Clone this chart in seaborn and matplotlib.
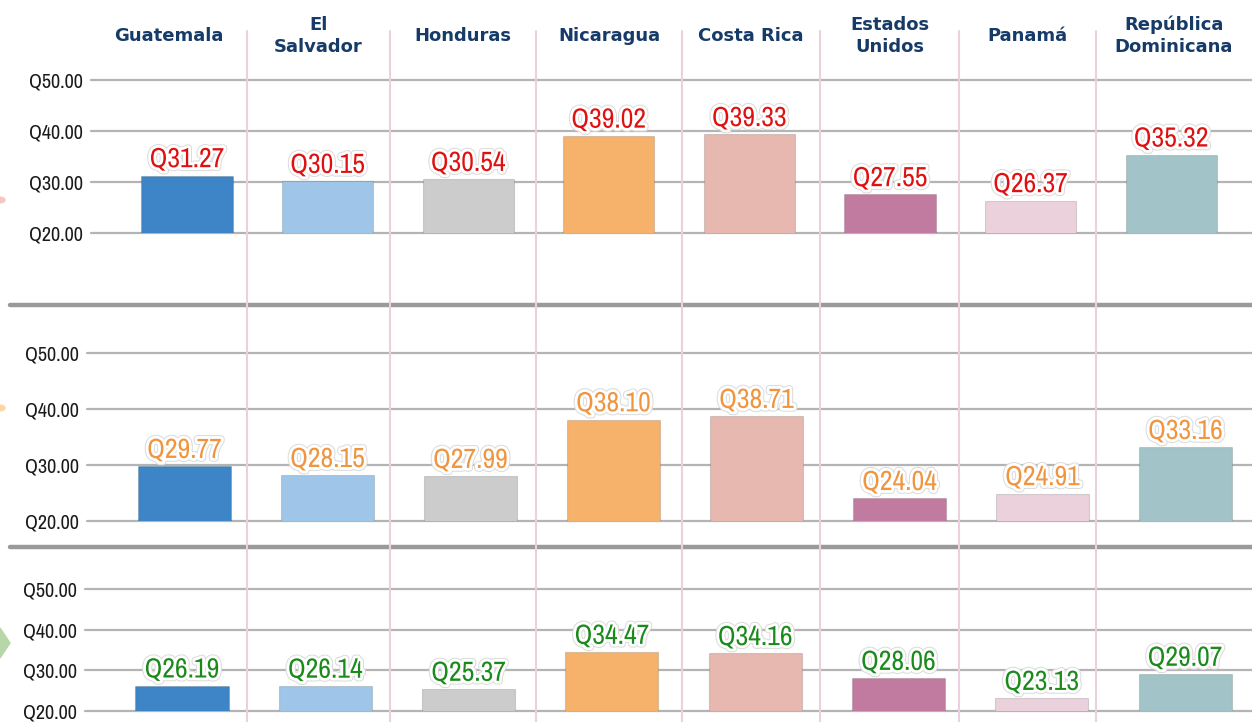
import matplotlib
matplotlib.use("Agg")
import matplotlib.pyplot as plt
import matplotlib.patheffects as pe
from matplotlib.lines import Line2D
from matplotlib.patches import Polygon, Circle
from matplotlib import font_manager
import seaborn as sns
import pandas as pd

# ---------------- data ----------------
paises = ["Guatemala", "El Salvador", "Honduras", "Nicaragua", "Costa Rica",
          "Estados Unidos", "Panamá", "República Dominicana"]
encabezados = ["Guatemala", "El\nSalvador", "Honduras", "Nicaragua", "Costa Rica",
               "Estados\nUnidos", "Panamá", "República\nDominicana"]
colores_pais = ["#3d85c6", "#9fc5e8", "#cccccc", "#f6b26b", "#e6b8af",
                "#c27ba0", "#ead1dc", "#a2c4c9"]
valores_1 = [31.27, 30.15, 30.54, 39.02, 39.33, 27.55, 26.37, 35.32]
valores_2 = [29.77, 28.15, 27.99, 38.10, 38.71, 24.04, 24.91, 33.16]
valores_3 = [26.19, 26.14, 25.37, 34.47, 34.16, 28.06, 23.13, 29.07]
ticks_y = [20, 30, 40, 50]
color_etiqueta = ["#e01010", "#f0953f", "#1a8a1a"]

# ---------------- fonts ----------------
_wmap = {"ultralight": 200, "light": 300, "normal": 400, "regular": 400, "book": 400,
         "medium": 500, "semibold": 600, "demibold": 600, "bold": 700,
         "heavy": 800, "extra bold": 800, "black": 900}


def _w(f):
    w = f.weight
    if isinstance(w, str):
        return _wmap.get(w.lower(), 400)
    return int(w)


def _rank(f):
    n = f.name
    if "Narrow" in n:
        pri = 0
    elif "Semi" in n or "Extra" in n or "Ultra" in n:
        pri = 2
    elif "Condensed" in n:
        pri = 1
    else:
        pri = 3
    return (pri, abs(_w(f) - 400), n)


cands = [f for f in font_manager.fontManager.ttflist
         if ("Narrow" in f.name or "Condensed" in f.name) and f.style == "normal"]
if cands:
    best = sorted(cands, key=_rank)[0]
    lbl_font = [best.name, "Roboto", "DejaVu Sans"]
    lbl_weight = _w(best)
    lbl_size, tick_size = 20, 14.5
else:
    lbl_font = ["Roboto", "DejaVu Sans"]
    lbl_weight = 400
    lbl_size, tick_size = 16.5, 12.5

# ---------------- layout ----------------
W, H = 1252, 722
sns.set_theme(style="white")
plt.rcParams["font.family"] = ["DejaVu Sans"]

fig = plt.figure(figsize=(W / 100, H / 100), dpi=100)
fig.patch.set_facecolor("white")


def fx(px):
    return px / W


def fy(py):
    return 1 - py / H


# (y of Q50 line, y of Q20 line, center of first bar, bar spacing, left of gridlines)
paneles = [
    (80, 233, 187.0, 140.6, 91, valores_1),
    (353, 521, 184.5, 143.0, 87, valores_2),
    (589, 711, 182.0, 143.3, 85, valores_3),
]

for k, (y50, y20, xc0, sp, xleft, vals) in enumerate(paneles):
    ppu = (y20 - y50) / 30.0
    ylo, yhi = 20, 52
    bot_px = y20
    top_px = y50 - (yhi - 50) * ppu
    ax = fig.add_axes([fx(xleft), fy(bot_px), fx(W - xleft), (bot_px - top_px) / H])
    ax.set_facecolor("none")
    df = pd.DataFrame({"pais": paises, "valor": vals})
    sns.barplot(data=df, x="pais", y="valor", hue="pais", palette=colores_pais,
                hue_order=paises, order=paises, width=0.65, dodge=False,
                saturation=1, legend=False, ax=ax, edgecolor="#00000022",
                linewidth=0.8, zorder=2)
    ax.set_ylim(ylo, yhi)
    ax.set_xlim((xleft - xc0) / sp, (W - xc0) / sp)
    for t in ticks_y:
        ax.axhline(t, color="#b4b4b4", lw=1.6, zorder=0, clip_on=False)
    ax.set_yticks(ticks_y)
    ax.set_yticklabels([f"Q{t:.2f}" for t in ticks_y], family=lbl_font,
                       fontweight=lbl_weight, fontsize=tick_size, color="#1a1a1a")
    ax.tick_params(axis="y", length=0, pad=6)
    ax.set_xticks([])
    ax.set_xlabel("")
    ax.set_ylabel("")
    for s in ax.spines.values():
        s.set_visible(False)
    for i, v in enumerate(vals):
        ax.annotate(f"Q{v:.2f}", xy=(i, v), xytext=(0, 6), textcoords="offset points",
                    ha="center", va="baseline", fontsize=lbl_size, family=lbl_font,
                    fontweight=lbl_weight,
                    color=color_etiqueta[k], zorder=6, annotation_clip=False,
                    path_effects=[pe.Stroke(linewidth=5.5, foreground="#dcdcdc"),
                                  pe.Stroke(linewidth=4, foreground="white"),
                                  pe.Normal()])

# panel separators
for yy in [305, 547]:
    fig.add_artist(Line2D([fx(10), fx(W)], [fy(yy), fy(yy)], color="#9a9a9a", lw=3.2, zorder=3))

# column separators
bordes = [90, 247, 390, 536, 682, 820, 959, 1096, 1252]
for xx in bordes[1:-1]:
    fig.add_artist(Line2D([fx(xx), fx(xx)], [fy(31), fy(H)], color="#ead1dc", lw=1.5, zorder=4))

# headers
for i, name in enumerate(encabezados):
    cx = (bordes[i] + bordes[i + 1]) / 2
    fig.text(fx(cx), fy(36), name, ha="center", va="center", fontsize=13,
             fontweight="bold", color="#173b69", linespacing=1.25)

# small decorations on left edge
fig.add_artist(Polygon([(fx(0), fy(628)), (fx(10), fy(643)), (fx(0), fy(658))],
                       closed=True, color="#b6d7a8", transform=fig.transFigure))
fig.add_artist(Circle((fx(0), fy(200)), 0.004, color="#f4c7c3", transform=fig.transFigure))
fig.add_artist(Circle((fx(0), fy(408)), 0.004, color="#fbd7a8", transform=fig.transFigure))

fig.savefig("out.png", dpi=100, facecolor="white")
